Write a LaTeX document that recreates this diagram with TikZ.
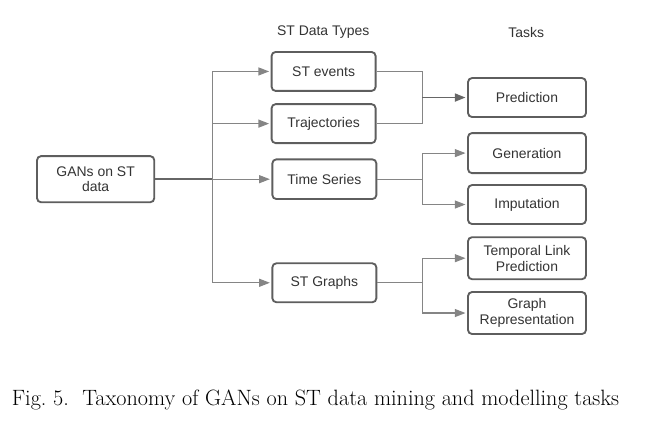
\documentclass[tikz,border=0pt]{standalone}
\usepackage{fontspec}
\usepackage{xcolor}
\usepackage{tikz}
\usetikzlibrary{arrows.meta}
\newfontfamily\boxfont{Liberation Sans}
\definecolor{TXBorder}{HTML}{5E5E5E}
\definecolor{TXWire}{HTML}{858585}
\definecolor{TXTrunk}{HTML}{666666}
\definecolor{TXText}{HTML}{333333}

\begin{document}
\begin{tikzpicture}[x=1cm,y=1cm,
  taxbox/.style={draw=TXBorder,line width=1.4pt,rounded corners=3pt,align=center,
    inner sep=0pt,font=\boxfont\fontsize{10.5}{12}\selectfont,text=TXText},
  wire/.style={TXWire,line width=0.8pt},
  trunk/.style={TXTrunk,line width=1.4pt},
  tip/.style={-{Triangle[length=8pt,width=6pt]},shorten >=1.2pt}]
\path[use as bounding box] (0,0) rectangle (17.22,11.22);
\node[font=\boxfont\fontsize{10.5}{12}\selectfont,text=TXText] (hdata) at (8.55,10.37) {ST Data Types};
\node[font=\boxfont\fontsize{10.5}{12}\selectfont,text=TXText] (htask) at (13.92,10.37) {Tasks};
\node[taxbox,minimum width=3.10cm,minimum height=1.22cm] (gans) at (2.53,6.48) {GANs on ST\\data};
\node[taxbox,minimum width=2.75cm,minimum height=1.03cm] (stev) at (8.56,9.33) {ST events};
\node[taxbox,minimum width=2.75cm,minimum height=1.03cm] (traj) at (8.56,7.95) {Trajectories};
\node[taxbox,minimum width=2.75cm,minimum height=1.05cm] (tser) at (8.58,6.48) {Time Series};
\node[taxbox,minimum width=2.75cm,minimum height=1.03cm] (stgr) at (8.58,3.74) {ST Graphs};
\node[taxbox,minimum width=3.12cm,minimum height=1.03cm] (pred) at (13.94,8.64) {Prediction};
\node[taxbox,minimum width=3.12cm,minimum height=1.06cm] (gen) at (13.94,7.17) {Generation};
\node[taxbox,minimum width=3.12cm,minimum height=1.03cm] (imp) at (13.94,5.81) {Imputation};
\node[taxbox,minimum width=3.12cm,minimum height=1.11cm] (tlp) at (13.94,4.39) {Temporal Link\\Prediction};
\node[taxbox,minimum width=3.12cm,minimum height=1.11cm] (grep) at (13.94,2.94) {Graph\\Representation};
\coordinate (split) at (5.61,6.48);
\coordinate (join) at (11.17,8.64);
\coordinate (fork1) at (11.17,6.48);
\coordinate (fork2) at (11.17,3.74);
\draw[trunk] (gans.east) -- (split);
\draw[wire] (split |- stev) -- (split |- stgr);
\draw[wire,tip] (split |- stev) -- (stev.west);
\draw[wire,tip] (split |- traj) -- (traj.west);
\draw[wire,tip] (split) -- (tser.west);
\draw[wire,tip] (split |- stgr) -- (stgr.west);
\draw[wire] (stev.east) -| (join) |- (traj.east);
\draw[trunk,tip] (join) -- (pred.west);
\draw[wire] (tser.east) -- (fork1);
\draw[wire,tip] (fork1) |- (gen.west);
\draw[wire,tip] (fork1) |- (imp.west);
\draw[wire] (stgr.east) -- (fork2);
\draw[wire,tip] (fork2) |- (tlp.west);
\draw[wire,tip] (fork2) |- (grep.west);
\node[anchor=base west,font=\fontsize{16.7}{20}\selectfont] (caption) at (0.19,0.50) {Fig.~5.\ \ Taxonomy of GANs on ST data mining and modelling tasks};
\end{tikzpicture}
\end{document}
